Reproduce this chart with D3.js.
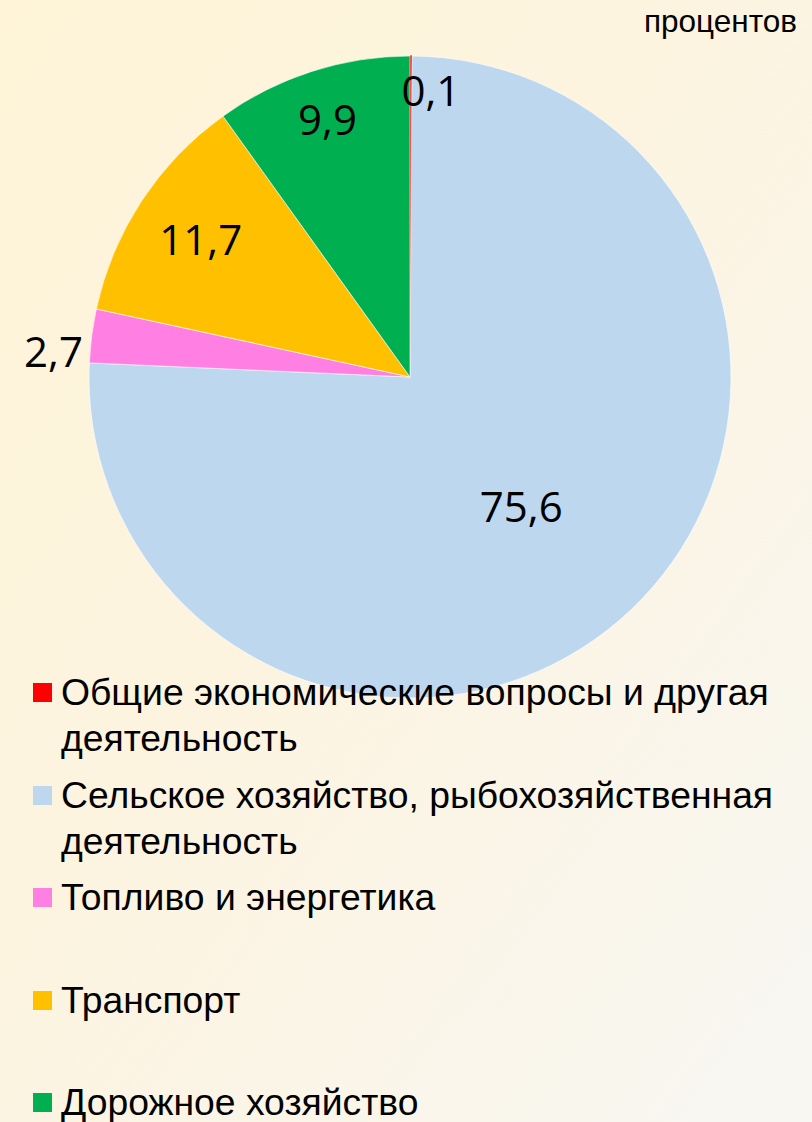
<!DOCTYPE html>
<html>
<head>
<meta charset="utf-8">
<script src="https://cdn.jsdelivr.net/npm/d3@7"></script>
<style>
  html, body { margin: 0; padding: 0; }
  body { width: 812px; height: 1122px; overflow: hidden; }
</style>
</head>
<body>
<svg id="chart" width="812" height="1122"></svg>
<script>
// data
const categories = [
  'Общие экономические вопросы и другая деятельность',
  'Сельское хозяйство, рыбохозяйственная деятельность',
  'Топливо и энергетика',
  'Транспорт',
  'Дорожное хозяйство'
]
const values = [0.1, 75.6, 2.7, 11.7, 9.9]
const valueLabels = ['0,1', '75,6', '2,7', '11,7', '9,9']
const legendLines = [
  ['Общие экономические вопросы и другая', 'деятельность'],
  ['Сельское хозяйство, рыбохозяйственная', 'деятельность'],
  ['Топливо и энергетика'],
  ['Транспорт'],
  ['Дорожное хозяйство']
]
const colors = ['#ff0000', '#bdd7ee', '#ff7fe3', '#ffc000', '#00b050']
const unitLabel = 'процентов'

const svg = d3.select('#chart')

// background
const defs = svg.append('defs')
const grad = defs.append('linearGradient').attr('id', 'bg')
  .attr('x1', '0%').attr('y1', '0%').attr('x2', '100%').attr('y2', '100%')
grad.append('stop').attr('offset', '0%').attr('stop-color', '#fff4d8')
grad.append('stop').attr('offset', '45%').attr('stop-color', '#fcf4e0')
grad.append('stop').attr('offset', '100%').attr('stop-color', '#f8f7f3')
svg.append('rect').attr('width', 812).attr('height', 1122).attr('fill', 'url(#bg)')

// pie
const cx = 410, cy = 377, radius = 321
const color = d3.scaleOrdinal().domain(categories).range(colors)
const pie = d3.pie().sort(null).value(d => d.value)
const arc = d3.arc().innerRadius(0).outerRadius(radius)
const data = categories.map((c, i) => ({ name: c, value: values[i], label: valueLabels[i] }))
const arcs = pie(data)

const g = svg.append('g').attr('transform', 'translate(' + cx + ',' + cy + ')')
g.selectAll('path').data(arcs).enter().append('path')
  .attr('d', arc)
  .attr('fill', d => color(d.data.name))
  .attr('stroke', d => d.index === 0 ? color(d.data.name) : '#ffffff')
  .attr('stroke-width', d => d.index === 0 ? 1 : 0.6)

// label placement: radius fraction per slice, small nudges like excel does
const labelRadius = [0.89, 0.53, 1.12, 0.78, 0.84]
const labelShift = [[20, 0], [-6, 7], [0, 21], [0, 0], [0, 0]]
g.selectAll('text.val').data(arcs).enter().append('text')
  .attr('class', 'val')
  .attr('transform', d => {
    const a = (d.startAngle + d.endAngle) / 2
    const r = radius * labelRadius[d.index]
    let x = Math.sin(a) * r + labelShift[d.index][0]
    let y = -Math.cos(a) * r + labelShift[d.index][1]
    return 'translate(' + x + ',' + y + ')'
  })
  .attr('text-anchor', 'middle')
  .attr('dy', '0.36em')
  .attr('font-family', '"Open Sans", sans-serif')
  .attr('font-size', 42)
  .attr('fill', '#000')
  .text(d => d.data.label)

// unit label
svg.append('text')
  .attr('x', 797).attr('y', 32)
  .attr('text-anchor', 'end')
  .attr('font-family', '"Liberation Sans", Arial, sans-serif')
  .attr('font-size', 31.5)
  .attr('fill', '#000')
  .text(unitLabel)

// legend
const legendBase = [705, 808, 910, 1013, 1115]
const legend = svg.append('g')
legendLines.forEach((lines, i) => {
  const item = legend.append('g')
  item.append('rect')
    .attr('x', 33).attr('y', legendBase[i] - 22)
    .attr('width', 19).attr('height', 19)
    .attr('fill', colors[i])
  lines.forEach((t, j) => {
    item.append('text')
      .attr('x', 61).attr('y', legendBase[i] + j * 46)
      .attr('font-family', '"Liberation Sans", Arial, sans-serif')
      .attr('font-size', 37.3)
      .attr('fill', '#000')
      .text(t)
  })
})
</script>
</body>
</html>
